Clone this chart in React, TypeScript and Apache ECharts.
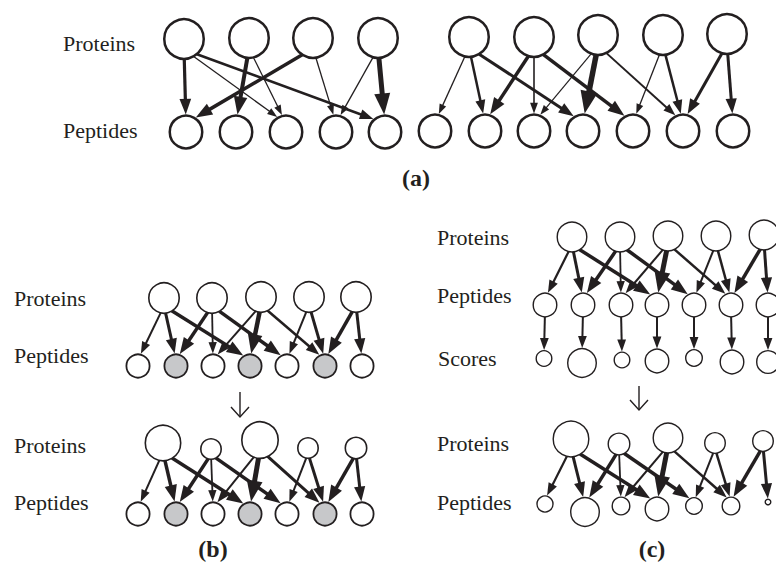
import React, { useEffect, useRef } from 'react';
import * as echarts from 'echarts';

const INK = '#231f20';
const GRAY = '#c7c8ca';
const TEXT = '#231f20';

// ---------- Panel (a) ----------
const aProtX = [184, 249, 313, 378, 469, 534, 598, 663, 727];
const aProtY = [39, 38, 38, 38, 37, 37, 35, 35, 34];
const aProtR = [21, 21, 21, 21, 21, 21, 21, 21, 21];
const aPepX = [186, 236, 286, 336, 385, 435, 485, 534, 583, 633, 683, 733];
const aPepY = [132, 132, 132, 132, 132, 131, 131, 131, 131, 131, 131, 131];
const aPepR = [17.5, 17.5, 17.5, 17.5, 17.5, 17.5, 17.5, 17.5, 17.5, 17.5, 17.5, 17.5];
const aEdgeFrom = [0, 0, 0, 1, 1, 2, 2, 3, 3, 4, 4, 4, 5, 5, 5, 6, 6, 6, 7, 7, 8, 8];
const aEdgeTo = [0, 2, 4, 1, 2, 0, 3, 3, 4, 5, 6, 8, 6, 7, 9, 7, 8, 10, 9, 10, 10, 11];
const aEdgeW = [3.2, 1.3, 2.5, 4, 1.3, 3.5, 1.3, 1.3, 5, 1.3, 2.5, 3, 3.5, 1.6, 3.5, 1.2, 5.5, 2, 1.3, 2.5, 3, 3];

// ---------- Panels (b) and (c): shared edge structure ----------
const bcEdgeFrom = [0, 0, 0, 1, 1, 1, 2, 2, 2, 3, 3, 4, 4];
const bcEdgeTo = [0, 1, 3, 1, 2, 4, 2, 3, 5, 4, 5, 5, 6];

// (b) top
const bTopProtX = [164, 212, 261, 309, 356];
const bTopProtY = [298, 298, 297, 297, 297];
const bTopProtR = [16, 16, 16, 16, 16];
const bPepX = [138, 176, 213, 250, 287, 325, 362];
const bTopPepY = [366, 366, 366, 366, 366, 366, 366];
const bPepR = [12.5, 12.5, 12.5, 12.5, 12.5, 12.5, 12.5];
const bPepShaded = [0, 1, 0, 1, 0, 1, 0];
const bTopW = [2, 3, 3.5, 3.5, 1.8, 3.5, 2, 4.5, 2.5, 2, 3, 3.5, 3];
// (b) bottom
const bBotProtX = [163, 211, 260, 308, 356];
const bBotProtY = [443, 449, 440, 448, 448];
const bBotProtR = [18.5, 11, 19, 11, 11.5];
const bBotPepY = [514, 514, 514, 514, 514, 514, 514];
const bBotW = [2, 3.5, 3.5, 3.5, 1.8, 3.5, 2, 5, 3, 2, 3, 3.5, 3];

// (c) top
const cTopProtX = [572, 620, 668, 716, 764];
const cTopProtY = [237, 237, 236, 236, 235];
const cTopProtR = [15.5, 15.5, 15.5, 15.5, 15.5];
const cTopPepX = [545, 583, 621, 657, 694, 731, 768];
const cTopPepY = [305, 305, 305, 305, 305, 305, 305];
const cTopPepR = [12.5, 12.5, 12.5, 12.5, 12.5, 12.5, 12.5];
const cScoreX = [544, 582, 622, 657, 694, 732, 768];
const cScoreY = [358.5, 363, 360, 361, 358, 362, 362];
const cScoreR = [8.5, 15, 8.5, 12.5, 9, 12.5, 12];
const cTopW = [2.2, 3, 3.5, 3.5, 1.8, 3.5, 2, 5, 2.5, 2, 2.5, 3.5, 3];
const cScoreW = [2, 2, 2, 2, 2, 2, 2];
// (c) bottom
const cBotProtX = [571, 619, 668, 715, 763];
const cBotProtY = [439, 444, 438, 443, 441];
const cBotProtR = [18.5, 11.5, 15.5, 11, 11];
const cBotPepX = [545, 585, 621, 657, 694, 731, 768];
const cBotPepY = [504, 512, 506, 509, 506, 506, 502];
const cBotPepR = [8.7, 15, 9.5, 12.5, 9, 9.5, 3.5];
const cBotW = [2.2, 3, 3.5, 3.5, 1.8, 3.5, 2, 5, 2.5, 2, 2.5, 3.5, 3];

// ---------- Texts ----------
const rowLabels: [string, number, number][] = [
  ['Proteins', 63, 43],
  ['Peptides', 63, 130],
  ['Proteins', 14, 298],
  ['Peptides', 14, 355],
  ['Proteins', 14, 445],
  ['Peptides', 14, 502],
  ['Proteins', 437, 237],
  ['Peptides', 437, 295],
  ['Scores', 438, 358],
  ['Proteins', 437, 443],
  ['Peptides', 437, 502],
];
const panelLabels: [string, number, number][] = [
  ['(a)', 416, 178],
  ['(b)', 213, 549],
  ['(c)', 652, 549],
];
// transition arrows: x, top, bottom
const downArrows: [number, number, number][] = [
  [240, 392, 417],
  [639, 386, 410],
];

function nodes(xs: number[], ys: number[], rs: number[], shaded?: number[]) {
  return xs.map((x, i) => ({
    value: [x, ys[i], rs[i]],
    itemStyle: { color: shaded && shaded[i] ? GRAY : '#ffffff' },
  }));
}

function edges(
  sx: number[], sy: number[], sr: number[],
  tx: number[], ty: number[], tr: number[],
  from: number[], to: number[], w: number[]
) {
  return from.map((f, i) => {
    const t = to[i];
    return [sx[f], sy[f], sr[f], tx[t], ty[t], tr[t], w[i]];
  });
}

function nodeSeries(data: any[], stroke: number) {
  return {
    type: 'scatter',
    z: 5,
    clip: false,
    silent: true,
    symbol: 'circle',
    symbolSize: (v: number[]) => Math.max(1, 2 * v[2] - stroke),
    itemStyle: { borderColor: INK, borderWidth: stroke, opacity: 1 },
    data,
  };
}

function hit(ax: number, ay: number, dx: number, dy: number, cx: number, cy: number, r: number, larger: boolean) {
  const fx = ax - cx;
  const fy = ay - cy;
  const a = dx * dx + dy * dy;
  const b = 2 * (fx * dx + fy * dy);
  const c = fx * fx + fy * fy - r * r;
  const sq = Math.sqrt(Math.max(0, b * b - 4 * a * c));
  return larger ? (-b + sq) / (2 * a) : (-b - sq) / (2 * a);
}

function renderEdge(_params: any, api: any) {
  const s = api.coord([api.value(0), api.value(1)]);
  const t = api.coord([api.value(3), api.value(4)]);
  const rs = api.value(2);
  const rt = api.value(5);
  const w = api.value(6);
  const ax = s[0], ay = s[1] + rs * 0.5;
  const bx = t[0], by = t[1] - rt * 0.5;
  const dx = bx - ax, dy = by - ay;
  const k0 = hit(ax, ay, dx, dy, s[0], s[1], rs - 1, true);
  const k1 = hit(ax, ay, dx, dy, t[0], t[1], rt, false);
  const x0 = ax + k0 * dx, y0 = ay + k0 * dy;
  const xt = ax + k1 * dx, yt = ay + k1 * dy;
  const len = Math.hypot(xt - x0, yt - y0) || 1;
  const ux = (xt - x0) / len, uy = (yt - y0) / len;
  const nx = -uy, ny = ux;
  const hl = 6 + 3.0 * w;
  const hw = 4 + 2.4 * w;
  const bxh = xt - ux * hl, byh = yt - uy * hl;
  const lx = xt - ux * hl * 0.7, ly = yt - uy * hl * 0.7;
  return {
    type: 'group',
    children: [
      {
        type: 'line',
        shape: { x1: x0, y1: y0, x2: lx, y2: ly },
        style: { stroke: INK, lineWidth: w, lineCap: 'butt' },
      },
      {
        type: 'polygon',
        shape: {
          points: [
            [xt, yt],
            [bxh + nx * hw / 2, byh + ny * hw / 2],
            [bxh - nx * hw / 2, byh - ny * hw / 2],
          ],
        },
        style: { fill: INK },
      },
    ],
  };
}

function edgeSeries(data: number[][]) {
  return {
    type: 'custom',
    z: 2,
    silent: true,
    renderItem: renderEdge,
    encode: { x: 0, y: 1 },
    data,
  };
}

export default function App() {
  const ref = useRef<HTMLDivElement>(null);
  useEffect(() => {
    if (!ref.current) return;
    const chart = echarts.init(ref.current, null, { renderer: 'svg' });
    const graphic: any[] = [];
    rowLabels.forEach(([txt, x, y]) => {
      graphic.push({
        type: 'text',
        x,
        y,
        silent: true,
        style: {
          text: txt,
          fill: TEXT,
          fontFamily: 'Liberation Serif',
          fontSize: 22,
          align: 'left',
          verticalAlign: 'middle',
        },
      });
    });
    panelLabels.forEach(([txt, x, y]) => {
      graphic.push({
        type: 'text',
        x,
        y,
        silent: true,
        style: {
          text: txt,
          fill: TEXT,
          fontFamily: 'Liberation Serif',
          fontWeight: 'bold',
          fontSize: 24,
          align: 'center',
          verticalAlign: 'middle',
        },
      });
    });
    downArrows.forEach(([x, y0, y1]) => {
      graphic.push({
        type: 'line',
        silent: true,
        shape: { x1: x, y1: y0, x2: x, y2: y1 },
        style: { stroke: INK, lineWidth: 1.4 },
      });
      graphic.push({
        type: 'polyline',
        silent: true,
        shape: { points: [[x - 9, y1 - 10], [x, y1], [x + 9, y1 - 10]] },
        style: { stroke: INK, lineWidth: 1.4, fill: null },
      });
    });

    const option: any = {
      animation: false,
      backgroundColor: '#ffffff',
      grid: { left: 0, right: 0, top: 0, bottom: 0 },
      xAxis: { type: 'value', min: 0, max: 776, show: false },
      yAxis: { type: 'value', min: 0, max: 563, inverse: true, show: false },
      graphic,
      series: [
        // (a)
        edgeSeries(edges(aProtX, aProtY, aProtR, aPepX, aPepY, aPepR, aEdgeFrom, aEdgeTo, aEdgeW)),
        nodeSeries(nodes(aProtX, aProtY, aProtR), 2.5),
        nodeSeries(nodes(aPepX, aPepY, aPepR), 2.5),
        // (b)
        edgeSeries(edges(bTopProtX, bTopProtY, bTopProtR, bPepX, bTopPepY, bPepR, bcEdgeFrom, bcEdgeTo, bTopW)),
        edgeSeries(edges(bBotProtX, bBotProtY, bBotProtR, bPepX, bBotPepY, bPepR, bcEdgeFrom, bcEdgeTo, bBotW)),
        nodeSeries(nodes(bTopProtX, bTopProtY, bTopProtR), 1.6),
        nodeSeries(nodes(bPepX, bTopPepY, bPepR, bPepShaded), 1.8),
        nodeSeries(nodes(bBotProtX, bBotProtY, bBotProtR), 1.6),
        nodeSeries(nodes(bPepX, bBotPepY, bPepR, bPepShaded), 1.8),
        // (c)
        edgeSeries(edges(cTopProtX, cTopProtY, cTopProtR, cTopPepX, cTopPepY, cTopPepR, bcEdgeFrom, bcEdgeTo, cTopW)),
        edgeSeries(edges(cTopPepX, cTopPepY, cTopPepR, cScoreX, cScoreY, cScoreR, [0, 1, 2, 3, 4, 5, 6], [0, 1, 2, 3, 4, 5, 6], cScoreW)),
        edgeSeries(edges(cBotProtX, cBotProtY, cBotProtR, cBotPepX, cBotPepY, cBotPepR, bcEdgeFrom, bcEdgeTo, cBotW)),
        nodeSeries(nodes(cTopProtX, cTopProtY, cTopProtR), 1.4),
        nodeSeries(nodes(cTopPepX, cTopPepY, cTopPepR), 1.4),
        nodeSeries(nodes(cScoreX, cScoreY, cScoreR), 1.4),
        nodeSeries(nodes(cBotProtX, cBotProtY, cBotProtR), 1.4),
        nodeSeries(nodes(cBotPepX, cBotPepY, cBotPepR), 1.4),
      ],
    };
    chart.setOption(option);
    return () => chart.dispose();
  }, []);
  return (
    <div
      ref={ref}
      style={{ position: 'absolute', left: 0, top: 0, width: 776, height: 563, background: '#fff' }}
    />
  );
}
